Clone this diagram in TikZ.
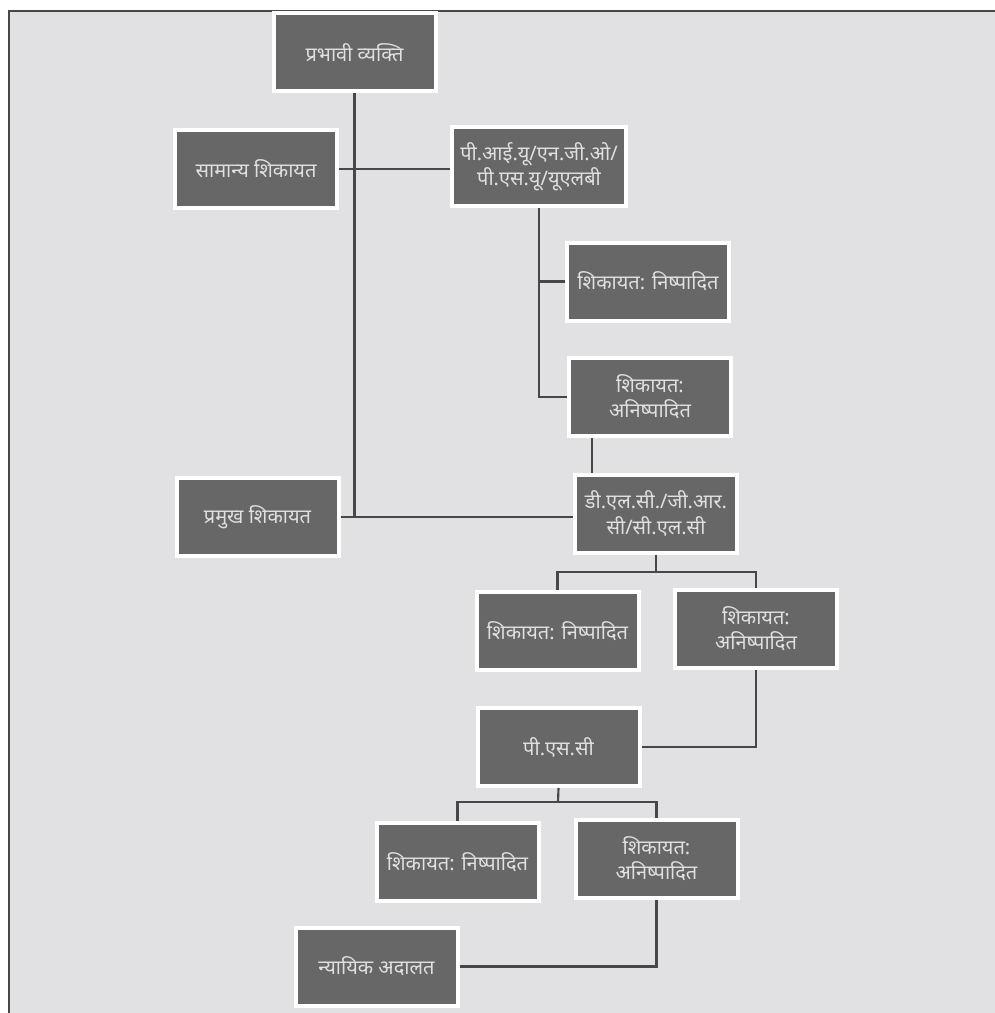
\documentclass[tikz,border=0pt]{standalone}
\usepackage{fontspec}
\newfontfamily\hindi[Script=Devanagari]{Noto Sans}
\usepackage{tikz}
\usetikzlibrary{positioning}

\definecolor{bggray}{HTML}{E1E1E3}
\definecolor{boxgray}{HTML}{676767}
\definecolor{boxtext}{HTML}{E0E0E0}
\definecolor{linegray}{HTML}{474747}

\begin{document}
\begin{tikzpicture}[x=0.75pt, y=-0.75pt, box/.style={shape=rectangle, draw=white, line width=3pt, fill=boxgray, text=boxtext, minimum width=121.5pt, minimum height=58.5pt, inner sep=0, align=center, font=\hindi\fontsize{15}{19}\selectfont}, link/.style={draw=linegray, line width=1.6pt}]
				\useasboundingbox (0,0) rectangle (995,1013);
				\fill[bggray] (9,11) rectangle (995,1013);
				\draw[linegray, line width=2pt] (9,1013) -- (9,11) -- (995,11);
				\node[box] (top) at (354.5,52.5) {प्रभावी व्यक्ति};
				\node[box] (gen) at (256,169) {सामान्य शिकायत};
				\node[box, minimum width=130pt] (piu) at (539,166.5) {पी.आई.यू/एन.जी.ओ/\\पी.एस.यू/यूएलबी};
				\node[box] (r1) at (648,281.5) {शिकायत: निष्पादित};
				\node[box] (u1) at (650,397) {शिकायत:\\अनिष्पादित};
				\node[box] (maj) at (257.5,517) {प्रमुख शिकायत};
				\node[box] (dlc) at (656,513.5) {डी.एल.सी./जी.आर.\\सी/सी.एल.सी};
				\node[box] (r2) at (557.5,631) {शिकायत: निष्पादित};
				\node[box] (u2) at (756,629) {शिकायत:\\अनिष्पादित};
				\node[box] (psc) at (558.5,747) {पी.एस.सी};
				\node[box] (r3) at (457.5,862) {शिकायत: निष्पादित};
				\node[box] (u3) at (656.5,859) {शिकायत:\\अनिष्पादित};
				\node[box] (court) at (376.5,966.5) {न्यायिक अदालत};
				\coordinate (s1) at (656,572);
				\coordinate (s2) at (558,802);
				\draw[link] (top.south) to (top.south |- maj.east);
				\draw[link] (gen.east) to (gen.east -| piu.west);
				\draw[link] (maj.east) to (maj.east -| dlc.west);
				\draw[link] (piu.south) to (piu.south |- u1.west) to (u1.west);
				\draw[link] (piu.south |- r1.west) to (r1.west);
				\draw[link, line width=0.8pt] ([xshift=-43.5pt]u1.south) to ([xshift=-43.5pt]u1.south |- dlc.north);
				\draw[link] (dlc.south) to (s1);
				\draw[link] (r2.north) to (r2.north |- s1) to (u2.north |- s1) to (u2.north);
				\draw[link] (u2.south) |- (psc.east);
				\draw[link] (psc.south) to (s2);
				\draw[link] (r3.north) to (r3.north |- s2) to (u3.north |- s2) to (u3.north);
				\draw[link] (u3.south) |- (court.east);
			\end{tikzpicture}
\end{document}
